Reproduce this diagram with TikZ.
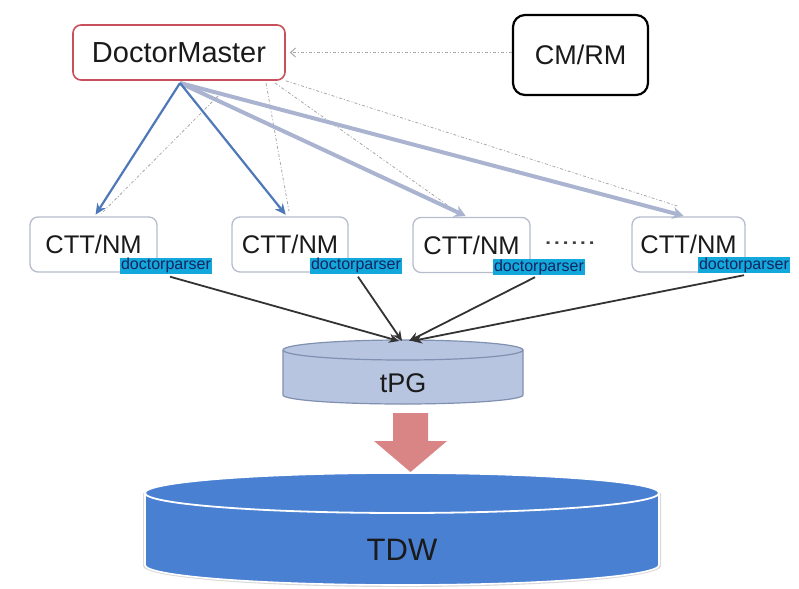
\documentclass[tikz,border=0pt]{standalone}
\usepackage{fontspec}
\setmainfont{Liberation Sans}
\usetikzlibrary{arrows.meta,calc}
\definecolor{dmred}{HTML}{C8505A}
\definecolor{arrblue}{HTML}{4F78B8}
\definecolor{arrlight}{HTML}{AAB4D0}
\definecolor{boxgrey}{HTML}{B6BCCB}
\definecolor{tagcyan}{HTML}{12A8DC}
\definecolor{tagtext}{HTML}{14245E}
\definecolor{tpgfill}{HTML}{B7C5E0}
\definecolor{tpgline}{HTML}{8090B0}
\definecolor{tdwfill}{HTML}{4A80D2}
\definecolor{bigred}{HTML}{D98585}
\definecolor{dashgrey}{HTML}{A8A8A8}
\definecolor{txt}{HTML}{1A1A1A}
\tikzset{
  dmbox/.style={draw=dmred, line width=1.6pt, rounded corners=8pt, minimum width=212pt, minimum height=55pt, inner sep=0pt, text=txt, font=\fontsize{29}{32}\selectfont},
  cmbox/.style={draw=black, line width=2.2pt, rounded corners=12pt, minimum width=135pt, minimum height=80pt, inner sep=0pt, text=txt, font=\fontsize{27}{30}\selectfont},
  cttbox/.style={draw=boxgrey, line width=1.3pt, rounded corners=8pt, minimum height=55pt, inner sep=0pt, text=txt, font=\fontsize{25.5}{28}\selectfont},
  tagbox/.style={fill=tagcyan, minimum width=92pt, minimum height=16pt, inner sep=0pt, text=tagtext, font=\fontsize{16}{16}\selectfont},
  bluearrow/.style={draw=arrblue, line width=2.2pt, -{Stealth[length=11pt,width=10pt]}, shorten >=2pt},
  lightarrow/.style={draw=arrlight, line width=4pt, -{Stealth[length=11pt,width=12pt]}, shorten >=2pt},
  blackarrow/.style={draw=black!80, line width=1.8pt, -{Stealth[length=10pt,width=9pt]}},
  dashline/.style={draw=dashgrey, line width=0.8pt, dash pattern=on 3pt off 2pt on 1pt off 2pt},
  dbtext/.style={text=txt}
}
\begin{document}
\begin{tikzpicture}[x=1pt,y=-1pt]
\useasboundingbox (0,0) rectangle (799,588);

% top boxes
\node[dmbox] (dm) at (179,52.5) {DoctorMaster};
\node[cmbox] (cm) at (580.5,55) {CM/RM};

% worker boxes
\node[cttbox, minimum width=127pt] (c1) at (93.5,244.5) {CTT/NM};
\node[cttbox, minimum width=116pt] (c2) at (290,244.5) {CTT/NM};
\node[cttbox, minimum width=117pt] (c3) at (471.5,245) {CTT/NM};
\node[cttbox, minimum width=113pt] (c4) at (688.5,244.5) {CTT/NM};
\node[text=black!75, font=\fontsize{25}{28}\selectfont] (dots) at (570,243) {\scalebox{1.25}[1]{......}};

\node[tagbox] (p1) at (166,265.5) {doctorparser};
\node[tagbox] (p2) at (356,265.5) {doctorparser};
\node[tagbox] (p3) at (539,267) {doctorparser};
\node[tagbox] (p4) at (744,265) {doctorparser};

% CM/RM -> DoctorMaster
\draw[dashline, -{Straight Barb[length=5pt,width=9pt,line width=1pt]}] (cm.west |- dm.east) -- ([xshift=4pt]dm.east);

% dashed links
\coordinate (d1s) at (218,96);
\coordinate (d2s) at (266,83);
\coordinate (d3s) at (275,83);
\draw[dashline] (d1s) -- ($(c1.north)+(8,-3)$);
\draw[dashline] (d2s) -- ($(c2.north)+(-1,-5)$);
\draw[dashline] (d3s) -- ($(c3.north)+(-16,-6)$);
\draw[dashline] (dm.south east) -- ($(c4.north)+(-10,-10)$);

% solid arrows from DoctorMaster
\coordinate (dmo) at (180,83);
\draw[lightarrow] (dmo) -- ($(c4.north)+(-3,0)$);
\draw[lightarrow] (dmo) -- ($(c3.north)+(-4,0)$);
\draw[bluearrow] (dmo) -- ($(c1.north)+(1,0)$);
\draw[bluearrow] (dmo) -- ($(c2.north)+(-3,0)$);

% tPG cylinder
\filldraw[fill=tpgfill, draw=tpgline, line width=1.2pt]
  (283,350) -- (283,395) arc[start angle=180,end angle=0,x radius=120,y radius=9] -- (523,350)
  arc[start angle=0,end angle=-180,x radius=120,y radius=10] -- cycle;
\draw[tpgline, line width=1.2pt] (283,350) arc[start angle=180,end angle=0,x radius=120,y radius=10];
\node[dbtext, font=\fontsize{27}{30}\selectfont] (tpg) at (403,383) {tPG};

% black arrows into tPG
\coordinate (t1) at (399,341);
\coordinate (t2) at (402,341);
\coordinate (t3) at (409,341);
\coordinate (t4) at (412,341);
\draw[blackarrow] ($(p1.south)+(4,3)$) -- (t1);
\draw[blackarrow] ($(p2.south)+(2,3)$) -- (t2);
\draw[blackarrow] ($(p3.south)+(-4,2)$) -- (t3);
\draw[blackarrow] ($(p4.south)+(0,2)$) -- (t4);

% TDW cylinder
\fill[black!15] (143,493) -- (143,566) arc[start angle=180,end angle=0,x radius=259,y radius=21] -- (661,493) -- cycle;
\filldraw[fill=tdwfill, draw=white, line width=1.6pt]
  (145,493) -- (145,565) arc[start angle=180,end angle=0,x radius=257,y radius=20] -- (659,493)
  arc[start angle=0,end angle=-180,x radius=257,y radius=20] -- cycle;
\draw[white, line width=1.8pt] (145,493) arc[start angle=180,end angle=0,x radius=257,y radius=20];
\node[dbtext, font=\fontsize{31}{34}\selectfont] (tdw) at (402,550) {TDW};

% big red arrow tPG -> TDW
\fill[bigred] (393,413) -- (428,413) -- (428,441) -- (447,441) -- (410.5,472) -- (374,441) -- (393,441) -- cycle;
\end{tikzpicture}
\end{document}
